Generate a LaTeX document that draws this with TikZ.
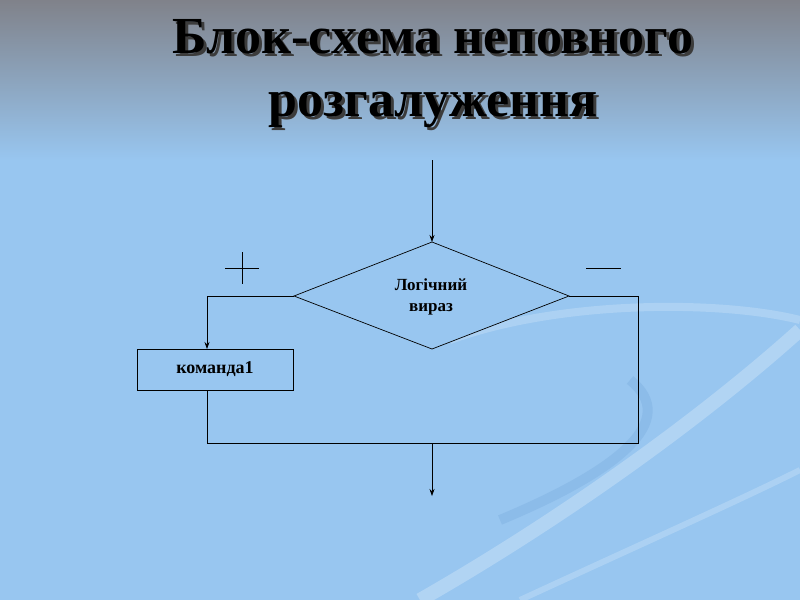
\documentclass[tikz,border=0pt]{standalone}
\usepackage{fontspec}
\setmainfont{Liberation Serif}
\usetikzlibrary{arrows.meta,calc}
\definecolor{bgtop}{RGB}{128,130,138}
\definecolor{bgblue}{RGB}{152,198,240}
\definecolor{swirl}{RGB}{120,170,220}
\definecolor{shadowc}{RGB}{60,60,60}
\begin{document}
\begin{tikzpicture}[x=1pt,y=-1pt,
  ln/.style={draw=black,line width=0.7pt},
  arr/.style={ln,-{Stealth[length=7pt,width=5pt]}},
  ttl/.style={font=\bfseries\fontsize{52}{63}\selectfont,align=center}]
\useasboundingbox (0,0) rectangle (800,600);
\shade[top color=bgtop, bottom color=bgblue] (0,0) rectangle (800,160);
\fill[bgblue] (0,159.5) rectangle (800,600);
% decorative swirls
\draw[white,opacity=0.25,line width=14pt] (420,600) .. controls (560,520) and (700,420) .. (800,330);
\draw[white,opacity=0.2,line width=8pt] (450,340) .. controls (560,300) and (720,300) .. (800,320);
\draw[swirl,opacity=0.35,line width=10pt] (500,520) .. controls (620,470) and (680,420) .. (630,380);
\draw[white,opacity=0.2,line width=6pt] (520,600) .. controls (650,540) and (740,500) .. (800,470);
% title
\node[ttl,text=shadowc] at (436,77) {Блок-схема неповного\\розгалуження};
\node[ttl,text=black] (title) at (433,74) {Блок-схема неповного\\розгалуження};
% flowchart
\coordinate (in) at (432,160);
\coordinate (dt) at (432,242);
\coordinate (dl) at (294,296);
\coordinate (dr) at (569,296);
\coordinate (db) at (432,349);
\draw[ln,fill=bgblue] (dt) -- (dr) -- (db) -- (dl) -- cycle;
\node[font=\bfseries\fontsize{17}{21}\selectfont,align=center] (cond) at (431,297) {Логічний\\вираз};
\draw[arr] (in) -- (dt);
\node[draw,line width=0.7pt,minimum width=156pt,minimum height=41pt,font=\bfseries\fontsize{18}{20}\selectfont] (cmd) at (215,369.5) {команда1};
\coordinate (l1) at (207,296);
\coordinate (cmdt) at (207,349);
\coordinate (cmdb) at (207,390);
\coordinate (j1) at (207,443);
\coordinate (j2) at (638,443);
\coordinate (r1) at (638,296);
\coordinate (jm) at (432,443);
\coordinate (out) at (432,496);
\draw[arr] (dl) -- (l1) -- (cmdt);
\draw[ln] (cmdb) -- (j1) -- (j2) -- (r1) -- (dr);
\draw[arr] (jm) -- (out);
% plus and minus
\draw[ln] (225,268) -- (259,268) (242,252) -- (242,284);
\draw[ln] (586,268) -- (621,268);
\end{tikzpicture}
\end{document}
